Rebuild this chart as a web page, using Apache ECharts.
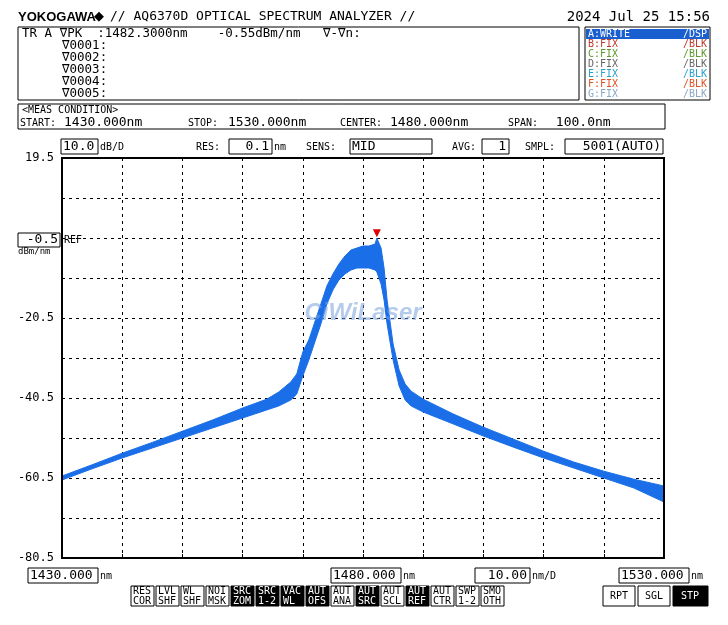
<!DOCTYPE html><html><head><meta charset="utf-8">
<script src="https://cdn.jsdelivr.net/npm/echarts@6/dist/echarts.min.js"></script>
<style>html,body{margin:0;background:#fff}#c{width:728px;height:625px}</style></head><body><div id="c"></div>
<script>
const wavelengths=[1430,1435,1440,1445,1450,1455,1460,1464,1466,1468,1469,1470,1471,1472,1473,1474,1475,1476,1477,1478,1479,1480,1481,1482,1482.3,1483,1483.5,1484,1485,1486,1487,1488,1490,1495,1500,1505,1510,1515,1520,1525,1530];
const upper=[-60.0,-57.2,-54.3,-51.6,-48.8,-46.0,-43.0,-40.8,-39.0,-36.5,-34.5,-29.0,-26.0,-21.5,-17.0,-12.5,-9.5,-7.0,-5.0,-3.5,-3.0,-2.5,-2.5,-2.0,-0.55,-3.0,-8.0,-16.0,-27.0,-33.5,-37.0,-38.8,-40.8,-44.5,-47.8,-50.8,-53.8,-56.5,-58.8,-60.8,-62.5];
const lower=[-61.0,-58.2,-55.5,-53.0,-50.5,-48.0,-45.5,-43.5,-42.5,-41.0,-39.5,-35.0,-31.0,-26.5,-22.0,-17.0,-13.5,-11.0,-9.5,-8.5,-8.0,-8.0,-8.0,-8.5,-9.0,-12.0,-16.0,-22.0,-31.0,-37.5,-41.0,-42.5,-44.0,-47.0,-50.0,-52.8,-55.5,-58.0,-60.5,-63.0,-66.5];
const yTicks=[19.5,-20.5,-40.5,-60.5,-80.5];
const peak=[1482.3,-0.55];
const buttons=[['RES','COR',0],['LVL','SHF',0],['WL','SHF',0],['NOI','MSK',0],['SRC','ZOM',1],['SRC','1-2',1],['VAC','WL',1],['AUT','OFS',1],['AUT','ANA',0],['AUT','SRC',1],['AUT','SCL',0],['AUT','REF',1],['AUT','CTR',0],['SWP','1-2',0],['SMO','OTH',0]];
const traces=[['A:WRITE','/DSP','#fff'],['B:FIX','/BLK','#c0392b'],['C:FIX','/BLK','#5a9a2a'],['D:FIX','/BLK','#666'],['E:FIX','/BLK','#2aa0d0'],['F:FIX','/BLK','#e05020'],['G:FIX','/BLK','#8aa8c8']];
const M='DejaVu Sans Mono';
const g=[];
function t(x,y,s,o){g.push(Object.assign({type:'text',x:x,y:y,style:Object.assign({text:s,font:'13px "'+M+'"',fill:'#000',textVerticalAlign:'middle'},o||{})}));}
function r(x,y,w,h,fill,stroke,lw){g.push({type:'rect',shape:{x:x,y:y,width:w,height:h},style:{fill:fill||'none',stroke:stroke||'#000',lineWidth:lw||1}});}
t(18,17,'YOKOGAWA',{font:'bold 13px "Liberation Sans"',fill:'#000'});
t(94,17,'◆',{font:'13px "DejaVu Sans"'});
t(110,17,'// AQ6370D OPTICAL SPECTRUM ANALYZER //');
t(710,17,'2024 Jul 25 15:56',{textAlign:'right',font:'14px "'+M+'"'});
r(18,27,561,73);
t(22,34,'TR A ∇PK  :1482.3000nm    -0.55dBm/nm   ∇-∇n:',{font:'12.5px "'+M+'"'});
['∇0001:','∇0002:','∇0003:','∇0004:','∇0005:'].forEach((s,i)=>t(62,46+i*12,s,{font:'12.5px "'+M+'"'}));
r(585,27,125,73);
r(586,29,123,10,'#1a5fd0','none');
traces.forEach((a,i)=>{t(588,34+i*10,a[0],{fill:a[2],font:'10px "'+M+'"'});t(707,34+i*10,a[1],{fill:a[2],textAlign:'right',font:'10px "'+M+'"'});});
r(18,104,647,25);
t(22,110,'<MEAS CONDITION>',{font:'10px "'+M+'"'});
t(20,123,'START:',{font:'10px "'+M+'"'});t(64,123,'1430.000nm',{font:'13px "'+M+'"'});
t(188,123,'STOP:',{font:'10px "'+M+'"'});t(228,123,'1530.000nm',{font:'13px "'+M+'"'});
t(340,123,'CENTER:',{font:'10px "'+M+'"'});t(390,123,'1480.000nm',{font:'13px "'+M+'"'});
t(508,123,'SPAN:',{font:'10px "'+M+'"'});t(548,123,' 100.0nm',{font:'13px "'+M+'"'});
r(61,139,37,15);t(63,147,'10.0',{font:'13px "'+M+'"'});t(100,147,'dB/D',{font:'10px "'+M+'"'});
t(196,147,'RES:',{font:'10px "'+M+'"'});r(229,139,43,15);t(269,147,'0.1',{textAlign:'right'});t(274,147,'nm',{font:'10px "'+M+'"'});
t(306,147,'SENS:',{font:'10px "'+M+'"'});r(350,139,82,15);t(352,147,'MID');
t(452,147,'AVG:',{font:'10px "'+M+'"'});r(482,139,27,15);t(506,147,'1',{textAlign:'right'});
t(525,147,'SMPL:',{font:'10px "'+M+'"'});r(565,139,98,15);t(661,147,'5001(AUTO)',{textAlign:'right'});
r(18,233,42,14);t(58,240,'-0.5',{textAlign:'right'});t(64,240,'REF',{font:'10px "'+M+'"'});
t(18,252,'dBm/nm',{font:'9px "'+M+'"'});
r(28,568,70,15);t(30,576,'1430.000');t(100,576,'nm',{font:'10px "'+M+'"'});
r(331,568,70,15);t(333,576,'1480.000');t(403,576,'nm',{font:'10px "'+M+'"'});
r(475,568,55,15);t(527,576,'10.00',{textAlign:'right'});t(532,576,'nm/D',{font:'10px "'+M+'"'});
r(619,568,70,15);t(621,576,'1530.000');t(691,576,'nm',{font:'10px "'+M+'"'});
buttons.forEach((b,i)=>{const x=131+i*25;r(x,586,23,20,b[2]?'#000':'#fff',b[2]?'#000':'#000');t(x+2,591,b[0],{fill:b[2]?'#fff':'#000',font:'10px "'+M+'"'});t(x+2,601,b[1],{fill:b[2]?'#fff':'#000',font:'10px "'+M+'"'});});
r(603,586,32,20);t(619,596,'RPT',{textAlign:'center',font:'10px "'+M+'"'});
r(638,586,32,20);t(654,596,'SGL',{textAlign:'center',font:'10px "'+M+'"'});
r(673,586,35,20,'#000');t(690,596,'STP',{textAlign:'center',fill:'#fff',font:'10px "'+M+'"'});
g.push({type:'text',x:363,y:313,z:10,style:{text:'CiWiLaser',font:'italic bold 24px "Liberation Sans"',fill:'rgba(120,160,220,0.55)',textAlign:'center',textVerticalAlign:'middle'}});
const upPts=wavelengths.map((w,i)=>[w,upper[i]]);
const ch=echarts.init(document.getElementById('c'));
ch.setOption({animation:false,backgroundColor:'#fff',
grid:{left:62,right:64,top:158,bottom:67},
xAxis:{type:'value',min:1430,max:1530,interval:10,axisLabel:{show:false},axisTick:{show:true,inside:true,length:4,lineStyle:{color:'#000'}},axisLine:{onZero:false,lineStyle:{color:'#000',width:2}},splitLine:{lineStyle:{type:[3,4],color:'#000'}}},
yAxis:{type:'value',min:-80.5,max:19.5,interval:10,axisLine:{show:true,lineStyle:{color:'#000',width:2}},axisTick:{show:false},
axisLabel:{fontFamily:M,fontSize:12,color:'#000',formatter:v=>yTicks.some(y=>Math.abs(y-v)<0.01)?String(v):''},splitLine:{lineStyle:{type:[3,4],color:'#000'}}},
graphic:g.concat([{type:'rect',shape:{x:62,y:158,width:602,height:400},style:{fill:'none',stroke:'#000',lineWidth:2},z:5}]),
series:[
{type:'custom',data:[0],renderItem:(p,api)=>{
  const pts=wavelengths.map((w,i)=>api.coord([w,upper[i]])).concat(wavelengths.map((w,i)=>api.coord([w,lower[i]])).reverse());
  return {type:'polygon',shape:{points:pts},style:{fill:'#1a6fe8',stroke:'#1a6fe8',lineWidth:1}};
}},
{type:'line',data:upPts,symbol:'none',lineStyle:{width:0},markPoint:{symbol:'triangle',symbolRotate:180,symbolSize:8,symbolOffset:[0,-5],itemStyle:{color:'#e00000'},label:{show:false},data:[{coord:peak}]}}
]});
</script></body></html>
